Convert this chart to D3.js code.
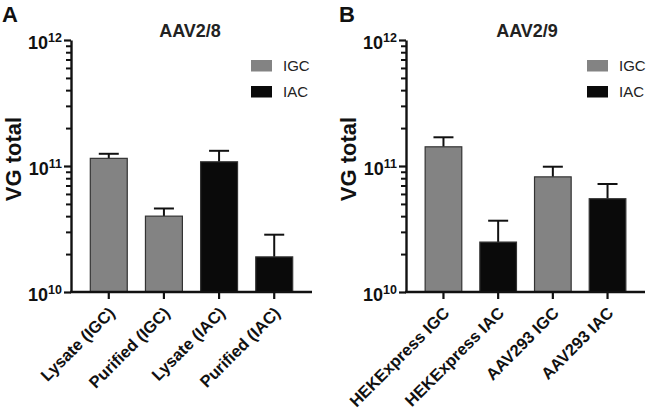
<!DOCTYPE html>
<html><head><meta charset="utf-8">
<script src="https://cdn.jsdelivr.net/npm/d3@7"></script>
<style>
body{margin:0;background:#fff;}
svg{display:block;font-family:"Liberation Sans",Arial,sans-serif;}
</style></head>
<body><svg id="c" width="650" height="417"></svg>
<script>
// ---- data ----
const seriesNames = ["IGC", "IAC"];
const seriesColors = ["#838383", "#0a0a0a"];
const yTickExponents = [10, 11, 12];

const catsA = ["Lysate (IGC)", "Purified (IGC)", "Lysate (IAC)", "Purified (IAC)"];
const seriesA = ["IGC", "IGC", "IAC", "IAC"];
const valuesA = [1.15e11, 4.0e10, 1.08e11, 1.9e10];
const errTopA = [1.25e11, 4.6e10, 1.32e11, 2.85e10];

const catsB = ["HEKExpress IGC", "HEKExpress IAC", "AAV293 IGC", "AAV293 IAC"];
const seriesB = ["IGC", "IAC", "IGC", "IAC"];
const valuesB = [1.42e11, 2.49e10, 8.2e10, 5.5e10];
const errTopB = [1.69e11, 3.68e10, 9.87e10, 7.2e10];

const svg = d3.select("#c");
const color = d3.scaleOrdinal().domain(seriesNames).range(seriesColors);

function panel(opt){
  const g = svg.append("g");
  const y = d3.scaleLog().domain([1e10, 1e12]).range([292, 40]);
  const x = d3.scaleBand().domain(opt.cats).range([opt.x0, opt.x1]).paddingInner(0.33).paddingOuter(0.35);

  // bars
  opt.cats.forEach((c, i) => {
    const v = opt.vals[i], e = opt.errs[i];
    const cx = x(c) + x.bandwidth()/2;
    g.append("line").attr("x1", cx).attr("x2", cx).attr("y1", y(v)).attr("y2", y(e))
      .attr("stroke", "#111").attr("stroke-width", 2);
    g.append("line").attr("x1", cx-10).attr("x2", cx+10).attr("y1", y(e)).attr("y2", y(e))
      .attr("stroke", "#111").attr("stroke-width", 2);
    g.append("rect").attr("x", x(c)).attr("width", x.bandwidth())
      .attr("y", y(v)).attr("height", y(1e10) - y(v))
      .attr("fill", color(opt.series[i])).attr("stroke", "#333").attr("stroke-width", 1.2);
  });

  // minor ticks
  const minor = [];
  for (let d = 10; d < 12; d++) for (let m = 2; m <= 9; m++) minor.push(m * Math.pow(10, d));
  const minorAx = g.append("g").attr("transform", `translate(${opt.x0},0)`)
    .call(d3.axisLeft(y).tickValues(minor).tickSize(5).tickFormat(""));
  minorAx.select(".domain").remove();
  minorAx.selectAll("line").attr("stroke", "#111").attr("stroke-width", 2);
  const majorAx = g.append("g").attr("transform", `translate(${opt.x0},0)`)
    .call(d3.axisLeft(y).tickValues(yTickExponents.map(p => Math.pow(10, p))).tickSize(7).tickSizeOuter(0).tickFormat(""));
  majorAx.select(".domain").attr("stroke", "#111").attr("stroke-width", 2.4);
  majorAx.selectAll("line").attr("stroke", "#111").attr("stroke-width", 2.2);
  majorAx.selectAll(".tick").each(function(d){
    const t = d3.select(this).append("text").attr("x", -9).attr("y", 8)
      .attr("text-anchor", "end").attr("fill", "#111").style("font-weight", "bold");
    t.append("tspan").style("font-size", "18px").text("10");
    t.append("tspan").style("font-size", "12.5px").attr("dy", "-7").text(String(Math.round(Math.log10(d))));
  });

  // x axis
  const xAx = g.append("g").attr("transform", `translate(0,${y(1e10)})`)
    .call(d3.axisBottom(x).tickSize(7).tickSizeOuter(0));
  xAx.select(".domain").attr("stroke", "#111").attr("stroke-width", 2.4)
    .attr("d", `M${opt.x0-1},0H${opt.x1}`);
  xAx.selectAll("line").attr("stroke", "#111").attr("stroke-width", 2.2);
  xAx.selectAll("text").attr("fill", "#111").style("font-size", "16.5px").style("font-weight", "bold")
    .attr("text-anchor", "end").attr("x", 0).attr("y", 0).attr("dy", 0)
    .attr("transform", "translate(7,22) rotate(-45)");

  // y label
  g.append("text").attr("transform", `translate(${opt.yLabX},159) rotate(-90)`)
    .attr("text-anchor", "middle").style("font-size", "22px").style("font-weight", "bold")
    .attr("fill", "#111").text("VG total");

  // title
  g.append("text").attr("x", opt.titleX).attr("y", 37).attr("text-anchor", "middle")
    .style("font-size", "18px").style("font-weight", "bold").attr("fill", "#222").text(opt.title);
  // panel letter
  g.append("text").attr("x", opt.letterX).attr("y", 22)
    .style("font-size", "22px").style("font-weight", "bold").attr("fill", "#111").text(opt.letter);

  // legend
  seriesNames.forEach((s, i) => {
    const ly = 60 + i * 26;
    g.append("rect").attr("x", opt.legX).attr("y", ly).attr("width", 21).attr("height", 11.5)
      .attr("fill", color(s));
    g.append("text").attr("x", opt.legX + 32).attr("y", ly + 11).style("font-size", "15px")
      .attr("fill", "#222").text(s);
  });
}

panel({cats: catsA, series: seriesA, vals: valuesA, errs: errTopA, x0: 71, x1: 312,
  title: "AAV2/8", titleX: 190, letter: "A", letterX: 2, legX: 251, yLabX: 21});
panel({cats: catsB, series: seriesB, vals: valuesB, errs: errTopB, x0: 406, x1: 645,
  title: "AAV2/9", titleX: 527, letter: "B", letterX: 339, legX: 587, yLabX: 356});
</script></body></html>
